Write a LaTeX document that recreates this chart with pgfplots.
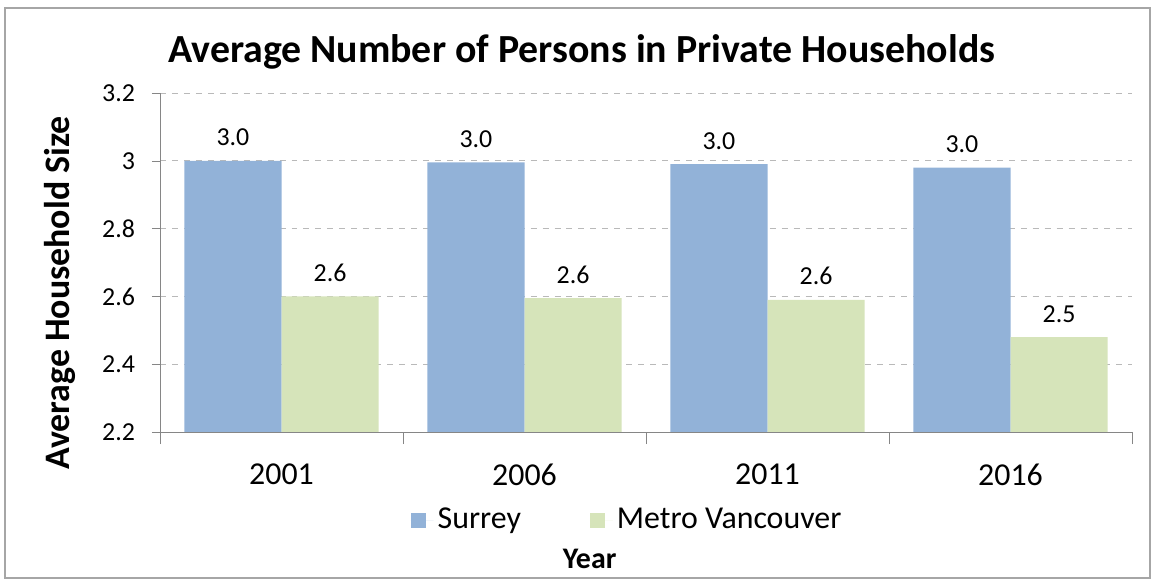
\documentclass[border=0pt]{standalone}
\usepackage{pgfplots}
\pgfplotsset{compat=1.18}
\usepackage{fontspec}
\setmainfont{Carlito}
\definecolor{surrey}{RGB}{146,178,216}
\definecolor{metro}{RGB}{214,228,186}
\definecolor{axisgray}{RGB}{134,134,134}

\begin{document}
\begin{tikzpicture}
\useasboundingbox (0bp,0bp) rectangle (576bp,291.5bp);
\draw[gray!70, line width=0.6bp] (2.5bp,2.5bp) rectangle (575bp,287.5bp);
\begin{axis}[
  at={(80bp,75.5bp)}, anchor=south west,
  scale only axis, width=486bp, height=169.5bp,
  /pgf/number format/assume math mode=true,
  ymin=2.2, ymax=3.2,
  ytick={2.2,2.4,2.6,2.8,3.0,3.2},
  yticklabels={2.2,2.4,2.6,2.8,3,3.2},
  xmin=-0.5, xmax=3.5,
  xtick={0,1,2,3},
  xticklabels={2001,2006,2011,2016},
  major x tick style={draw=none},
  extra x ticks={-0.5,0.5,1.5,2.5,3.5},
  extra x tick labels={},
  extra x tick style={major x tick style={draw=axisgray}, major tick length=6bp, grid=none},
  ymajorgrids,
  grid style={dashed, gray!55, line width=0.4bp},
  axis x line*=bottom, axis y line*=left,
  axis line style={draw=axisgray, -},
  y tick style={draw=axisgray},
  tick align=outside, major tick length=4bp,
  ybar=0pt, bar width=0.4,
  xticklabel style={font=\fontsize{16}{18}\selectfont, yshift=-8.5bp},
  yticklabel style={font=\fontsize{13}{15}\selectfont, xshift=-5bp},
  nodes near coords,
  nodes near coords style={font=\fontsize{13}{15}\selectfont,
    /pgf/number format/fixed, /pgf/number format/fixed zerofill,
    /pgf/number format/precision=1, anchor=base, inner sep=0pt, yshift=7.5bp},
  title={Average Number of Persons in Private Households},
  title style={font=\bfseries\fontsize{20}{23}\selectfont,
    at={(axis description cs:0.434,1.056)}, anchor=base},
  ylabel={Average Household Size},
  ylabel style={font=\bfseries\fontsize{18}{21}\selectfont,
    at={(axis description cs:-0.0926,0.41)}, anchor=base},
  xlabel={Year},
  xlabel style={font=\bfseries\fontsize{15}{17}\selectfont,
    at={(axis description cs:0.442,-0.404)}, anchor=base},
  legend columns=2,
  legend style={draw=none, fill=none,
    at={(axis description cs:0.4815,-0.26)}, anchor=center,
    font=\fontsize{16}{18}\selectfont,
    /tikz/every even column/.append style={column sep=32.5bp}},
  legend image code/.code={\fill[#1] (0bp,-3.75bp) rectangle (7.5bp,3.75bp);
    \path (0bp,0bp) -- (11.5bp,0bp);},
]
\addplot[fill=surrey, draw=none, bar shift=-0.2] coordinates {(0,3.00) (1,2.995) (2,2.99) (3,2.98)};
\addplot[fill=metro, draw=none, bar shift=0.2] coordinates {(0,2.60) (1,2.595) (2,2.59) (3,2.48)};
\legend{Surrey, Metro Vancouver}
\end{axis}
\end{tikzpicture}
\end{document}
